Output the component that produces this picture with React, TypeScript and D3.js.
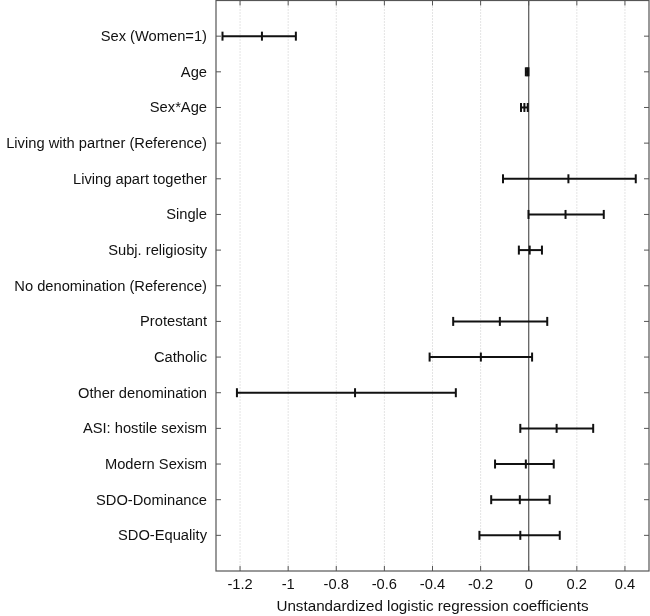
import React, { useRef, useEffect } from "react";
import * as d3 from "d3";

const labels = [
  "Sex (Women=1)",
  "Age",
  "Sex*Age",
  "Living with partner (Reference)",
  "Living apart together",
  "Single",
  "Subj. religiosity",
  "No denomination (Reference)",
  "Protestant",
  "Catholic",
  "Other denomination",
  "ASI: hostile sexism",
  "Modern Sexism",
  "SDO-Dominance",
  "SDO-Equality",
];
// null = reference category, no estimate drawn
const estimates = [-1.109, -0.006, -0.018, null, 0.165, 0.153, 0.004, null, -0.12, -0.199, -0.722, 0.116, -0.012, -0.037, -0.035];
const lower = [-1.273, -0.012, -0.032, null, -0.107, -0.001, -0.041, null, -0.314, -0.412, -1.213, -0.035, -0.14, -0.156, -0.205];
const upper = [-0.968, -0.001, -0.004, null, 0.445, 0.312, 0.055, null, 0.077, 0.014, -0.303, 0.268, 0.104, 0.087, 0.129];
const xTicks = [-1.2, -1, -0.8, -0.6, -0.4, -0.2, 0, 0.2, 0.4];

const FONT = "Liberation Sans, Arial, sans-serif";

const CoefPlot = () => {
  const svgRef = useRef(null);

  useEffect(() => {
    const width = 650;
    const height = 616;
    const left = 216;
    const right = 649;
    const top = 0.5;
    const bottom = 571;

    const svg = d3.select(svgRef.current).attr("width", width).attr("height", height);
    svg.selectAll("*").remove();

    const x = d3.scaleLinear().domain([-1.3, 0.5]).range([left, right]);
    const y = d3.scaleLinear().domain([0, 16]).range([top, bottom]);

    // dotted grid
    svg.append("g")
      .selectAll("line")
      .data(xTicks.filter((t) => t !== 0))
      .enter()
      .append("line")
      .attr("x1", (d: number) => x(d))
      .attr("x2", (d: number) => x(d))
      .attr("y1", top)
      .attr("y2", bottom)
      .attr("stroke", "#c8c8c8")
      .attr("stroke-width", 1)
      .attr("stroke-dasharray", "1,2");

    // zero line
    svg.append("line")
      .attr("x1", x(0))
      .attr("x2", x(0))
      .attr("y1", top)
      .attr("y2", bottom)
      .attr("stroke", "#555")
      .attr("stroke-width", 1.2);

    // box
    svg.append("rect")
      .attr("x", left)
      .attr("y", top)
      .attr("width", right - left)
      .attr("height", bottom - top)
      .attr("fill", "none")
      .attr("stroke", "#555")
      .attr("stroke-width", 1.2);

    // x ticks top & bottom
    const tk = 5;
    xTicks.forEach((t) => {
      svg.append("line").attr("x1", x(t)).attr("x2", x(t)).attr("y1", bottom).attr("y2", bottom - tk).attr("stroke", "#555");
      svg.append("line").attr("x1", x(t)).attr("x2", x(t)).attr("y1", top).attr("y2", top + tk).attr("stroke", "#555");
      svg.append("text")
        .attr("x", x(t))
        .attr("y", 589)
        .attr("text-anchor", "middle")
        .attr("font-family", FONT)
        .attr("font-size", 14.7)
        .attr("fill", "#111")
        .text(String(t));
    });

    // y ticks and labels
    labels.forEach((lab, i) => {
      const yy = y(i + 1);
      svg.append("line").attr("x1", left).attr("x2", left + tk).attr("y1", yy).attr("y2", yy).attr("stroke", "#555");
      svg.append("line").attr("x1", right).attr("x2", right - tk).attr("y1", yy).attr("y2", yy).attr("stroke", "#555");
      svg.append("text")
        .attr("x", 207)
        .attr("y", yy + 5)
        .attr("text-anchor", "end")
        .attr("font-family", FONT)
        .attr("font-size", 14.7)
        .attr("fill", "#111")
        .text(lab);
    });

    // error bars
    const cap = 4.5;
    const g = svg.append("g").attr("stroke", "#111").attr("stroke-width", 2);
    labels.forEach((_, i) => {
      const m = estimates[i];
      const lo = lower[i];
      const hi = upper[i];
      if (m === null || lo === null || hi === null) return;
      const yy = y(i + 1);
      g.append("line").attr("x1", x(lo)).attr("x2", x(hi)).attr("y1", yy).attr("y2", yy);
      [lo, m, hi].forEach((v) => {
        g.append("line").attr("x1", x(v)).attr("x2", x(v)).attr("y1", yy - cap).attr("y2", yy + cap);
      });
    });

    svg.append("text")
      .attr("x", x(-0.4))
      .attr("y", 611)
      .attr("text-anchor", "middle")
      .attr("font-family", FONT)
      .attr("font-size", 15.2)
      .attr("fill", "#111")
      .text("Unstandardized logistic regression coefficients");
  }, []);

  return <svg ref={svgRef} style={{ position: "fixed", top: 0, left: 0 }}></svg>;
};

export default function App() {
  return <CoefPlot />;
}
